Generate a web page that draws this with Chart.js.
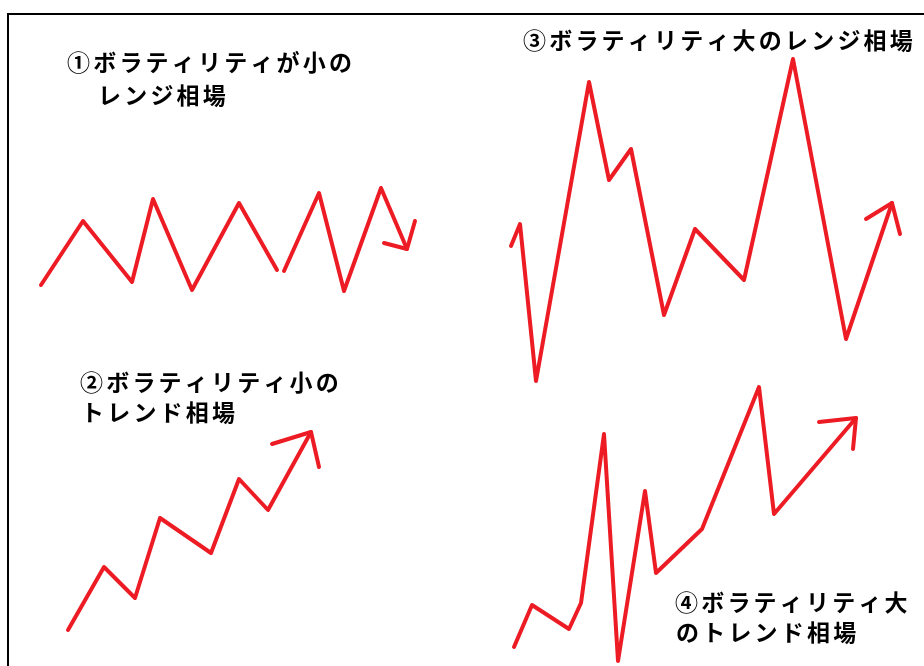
<!DOCTYPE html>
<html>
<head>
<meta charset="utf-8">
<script src="https://cdn.jsdelivr.net/npm/chart.js@4.4.1/dist/chart.umd.min.js"></script>
<style>
  body { margin: 0; background: #fff; }
  #wrap { width: 924px; height: 666px; }
</style>
</head>
<body>
<div id="wrap"><canvas id="volChart" width="924" height="666"></canvas></div>
<script>
// points (pixel units, y down)
var rangeSmallX = [41, 83, 132, 153, 192, 239, 277, null, 284, 319, 344, 381, 407];
var rangeSmallY = [285, 221, 282, 199, 290, 203, 270, null, 271, 193, 291, 188, 249];
var rangeSmallHeadX = [384, 407, 415];
var rangeSmallHeadY = [243, 249, 221];

var trendSmallX = [68, 104, 135, 160, 211, 239, 268, 311];
var trendSmallY = [630, 567, 598, 518, 553, 479, 510, 432];
var trendSmallHeadX = [272, 311, 319];
var trendSmallHeadY = [444, 432, 467];

var rangeBigX = [511, 520, 536, 589, 609, 631, 664, 695, 744, 793, 846, 892];
var rangeBigY = [246, 224, 381, 82, 180, 149, 315, 229, 280, 59, 339, 203];
var rangeBigHeadX = [866, 892, 900];
var rangeBigHeadY = [219, 203, 234];

var trendBigX = [514, 532, 569, 581, 604, 618, 645, 656, 702, 759, 774, 856];
var trendBigY = [647, 605, 629, 603, 434, 661, 491, 573, 529, 387, 514, 418];
var trendBigHeadX = [819, 856, 853];
var trendBigHeadY = [422, 418, 449];

var labels = [
  { lines: ['①ボラティリティが小の', 'レンジ相場'], x: [67, 98], y: [62, 95] },
  { lines: ['②ボラティリティ小の', 'トレンド相場'], x: [80, 81], y: [382, 412] },
  { lines: ['③ボラティリティ大のレンジ相場'], x: [523], y: [40] },
  { lines: ['④ボラティリティ大', 'のトレンド相場'], x: [675, 676], y: [602, 632] }
];

function pts(xs, ys) {
  return xs.map(function (x, i) { return x === null ? { x: null, y: null } : { x: x, y: ys[i] }; });
}

function line(xs, ys) {
  return {
    data: pts(xs, ys),
    showLine: true,
    spanGaps: false,
    borderColor: '#ed1c24',
    borderWidth: 4,
    borderCapStyle: 'round',
    borderJoinStyle: 'round',
    pointRadius: 0,
    tension: 0
  };
}

var frame = {
  id: 'frame',
  beforeDraw: function (chart) {
    var c = chart.ctx;
    c.save();
    c.fillStyle = '#fff';
    c.fillRect(0, 0, chart.width, chart.height);
    c.strokeStyle = '#000';
    c.lineWidth = 2;
    c.beginPath();
    c.moveTo(8, 666);
    c.lineTo(8, 14);
    c.lineTo(924, 14);
    c.stroke();
    c.restore();
  },
  afterDraw: function (chart) {
    var c = chart.ctx;
    c.save();
    c.fillStyle = '#000';
    c.font = 'bold 23px "Noto Sans CJK JP"';
    c.textBaseline = 'middle';
    labels.forEach(function (lb) {
      lb.lines.forEach(function (txt, i) {
        Array.from(txt).forEach(function (ch, k) {
          c.fillText(ch, lb.x[i] + k * 26.2, lb.y[i]);
        });
      });
    });
    c.restore();
  }
};

var ctx = document.getElementById('volChart');

var myChart = new Chart(ctx, {
  type: 'scatter',
  data: {
    datasets: [
      line(rangeSmallX, rangeSmallY),
      line(rangeSmallHeadX, rangeSmallHeadY),
      line(trendSmallX, trendSmallY),
      line(trendSmallHeadX, trendSmallHeadY),
      line(rangeBigX, rangeBigY),
      line(rangeBigHeadX, rangeBigHeadY),
      line(trendBigX, trendBigY),
      line(trendBigHeadX, trendBigHeadY)
    ]
  },
  options: {
    responsive: false,
    animation: false,
    devicePixelRatio: 1,
    layout: { padding: 0 },
    plugins: {
      legend: { display: false },
      tooltip: { enabled: false }
    },
    scales: {
      x: { type: 'linear', min: 0, max: 924, display: false },
      y: { type: 'linear', min: 0, max: 666, reverse: true, display: false }
    }
  },
  plugins: [frame]
});
</script>
</body>
</html>
